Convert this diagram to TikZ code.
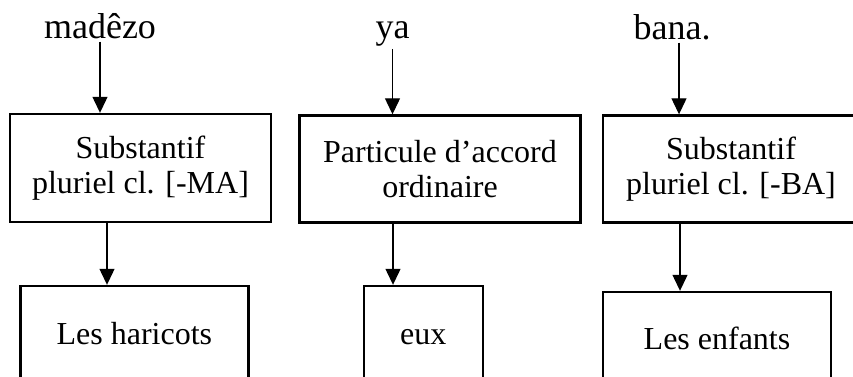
\documentclass[tikz,border=0pt]{standalone}
\usepackage{fontspec}
\setmainfont{Liberation Serif}
\usetikzlibrary{arrows.meta}
\begin{document}
\begin{tikzpicture}[x=1pt,y=-1pt,
  boxstyle/.style={draw,line width=2.4pt,inner sep=0pt,align=center,
    font=\fontsize{32}{35}\selectfont},
  wordstyle/.style={inner sep=3pt,anchor=base,font=\fontsize{36}{40}\selectfont},
  leafstyle/.style={boxstyle,text height=24pt,text depth=8pt},
  arr/.style={line width=1.2pt,-{Triangle[width=15pt,length=16pt]}}]
\useasboundingbox (0,0) rectangle (853,376);
\clip (0,0) rectangle (853,376);
% words
\node[wordstyle] (w1) at (100,38) {madêzo};
\node[wordstyle] (w2) at (392.5,38) {ya};
\node[wordstyle] (w3) at (672,39) {bana.};
% category boxes
\node[boxstyle,minimum width=261pt,minimum height=108pt] (b1) at (140.5,168) {Substantif\\pluriel cl. [-MA]};
\node[boxstyle,minimum width=281pt,minimum height=107pt] (b2) at (440,169) {Particule d’accord\\ordinaire};
\node[boxstyle,minimum width=256pt,minimum height=107pt] (b3) at (731,169) {Substantif\\pluriel cl. [-BA]};
% meaning boxes
\node[leafstyle,minimum width=228pt,minimum height=100pt] (l1) at (134.4,336) {Les haricots};
\node[leafstyle,minimum width=119pt,minimum height=100pt] (l2) at (423.3,336) {eux};
\node[leafstyle,minimum width=228pt,minimum height=98pt] (l3) at (717,341) {Les enfants};
% helper coordinates for arrow positions
\coordinate (t3) at (679,0);
\coordinate (p1) at (107,0);
\coordinate (p2) at (393,0);
\coordinate (p3) at (680,0);
% arrows
\draw[arr] (w1.south) -- (w1.south |- b1.north);
\draw[arr] (w2.south) -- (w2.south |- b2.north);
\draw[arr] (w3.south -| t3) -- (b3.north -| t3);
\draw[arr] (b1.south -| p1) -- (l1.north -| p1);
\draw[arr] (b2.south -| p2) -- (l2.north -| p2);
\draw[arr] (b3.south -| p3) -- (l3.north -| p3);
\end{tikzpicture}
\end{document}
